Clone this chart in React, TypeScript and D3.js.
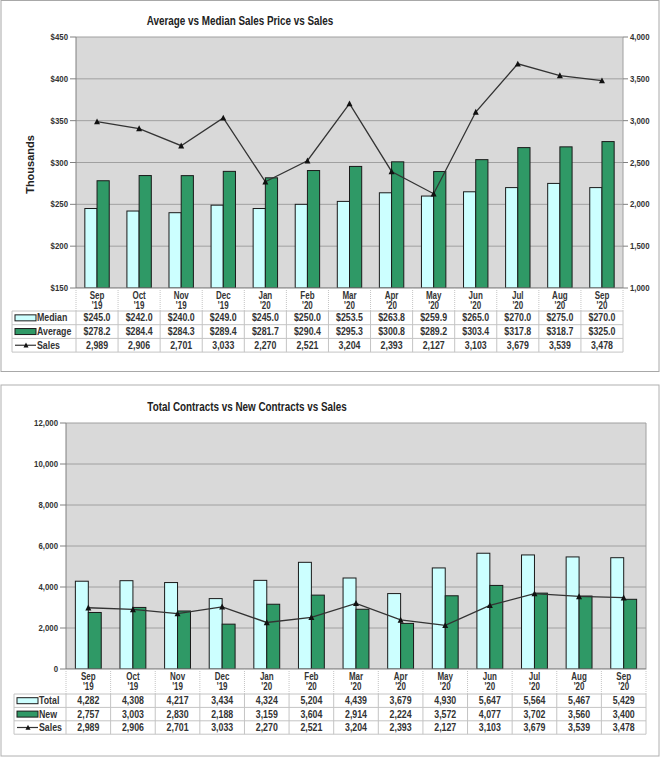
import React from "react";
import * as d3 from "d3";

const months = ["Sep", "Oct", "Nov", "Dec", "Jan", "Feb", "Mar", "Apr", "May", "Jun", "Jul", "Aug", "Sep"];
const years = ["'19", "'19", "'19", "'19", "'20", "'20", "'20", "'20", "'20", "'20", "'20", "'20", "'20"];

const median = [245.0, 242.0, 240.0, 249.0, 245.0, 250.0, 253.5, 263.8, 259.9, 265.0, 270.0, 275.0, 270.0];
const average = [278.2, 284.4, 284.3, 289.4, 281.7, 290.4, 295.3, 300.8, 289.2, 303.4, 317.8, 318.7, 325.0];
const sales = [2989, 2906, 2701, 3033, 2270, 2521, 3204, 2393, 2127, 3103, 3679, 3539, 3478];

const totalContracts = [4282, 4308, 4217, 3434, 4324, 5204, 4439, 3679, 4930, 5647, 5564, 5467, 5429];
const newContracts = [2757, 3003, 2830, 2188, 3159, 3604, 2914, 2224, 3572, 4077, 3702, 3560, 3400];

const priceTicks = [150, 200, 250, 300, 350, 400, 450];
const salesTicks = [1000, 1500, 2000, 2500, 3000, 3500, 4000];
const contractTicks = [0, 2000, 4000, 6000, 8000, 10000, 12000];

const FONT = "'Liberation Sans', Arial, Helvetica, sans-serif";
const C_LIGHT = "#ccffff";
const C_DARK = "#2f9966";
const TXT = "#333";

const fmtMoney = (v: number) => "$" + v.toFixed(1);
const fmtInt = d3.format(",");

type Row = { name: string; kind: "light" | "dark" | "line"; values: string[] };

function T(props: {
  x: number;
  y: number;
  fs: number;
  sx: number;
  anchor?: "start" | "middle" | "end";
  fill?: string;
  weight?: string;
  children: React.ReactNode;
}) {
  return (
    <text
      transform={`translate(${props.x},${props.y}) scale(${props.sx},1)`}
      textAnchor={props.anchor || "start"}
      fontFamily={FONT}
      fontWeight={props.weight || "bold"}
      fontSize={props.fs}
      fill={props.fill || TXT}
    >
      {props.children}
    </text>
  );
}

function Triangle({ x, y, s = 6 }: { x: number; y: number; s?: number }) {
  const h = s * 0.9;
  return <path d={`M${x},${y - h / 2 - 0.5} L${x + s / 2},${y + h / 2} L${x - s / 2},${y + h / 2} Z`} fill="#111" />;
}

function Chart(props: {
  title: string;
  titleX: number;
  titleY: number;
  box: [number, number, number, number];
  boxStroke: string;
  plot: { x0: number; x1: number; y0: number; y1: number };
  yDomain: [number, number];
  yTicks: number[];
  yFmt: (v: number) => string;
  y2?: { domain: [number, number]; ticks: number[]; fmt: (v: number) => string };
  barA: number[];
  barB: number[];
  line: number[];
  lineOnY2: boolean;
  legendX: number;
  catH: number;
  rowH: number;
  rows: Row[];
  yTitle?: string;
}) {
  const { plot } = props;
  const x = d3.scaleBand<number>().domain(d3.range(months.length)).range([plot.x0, plot.x1]).padding(0);
  const y = d3.scaleLinear().domain(props.yDomain).range([plot.y1, plot.y0]);
  const y2 = props.y2 ? d3.scaleLinear().domain(props.y2.domain).range([plot.y1, plot.y0]) : y;
  const bw = x.bandwidth() * 0.29;
  const ly = props.lineOnY2 ? y2 : y;
  const cxOf = (i: number) => (x(i) as number) + x.bandwidth() / 2;
  const linePath = d3
    .line<number>()
    .x((_, i) => cxOf(i))
    .y((d) => ly(d))(props.line) as string;
  const tableTop = plot.y1;
  const catBottom = tableTop + props.catH;
  const tableBottom = catBottom + props.rowH * props.rows.length;
  const [bx, by, bwid, bh] = props.box;
  return (
    <g>
      <rect x={bx} y={by} width={bwid} height={bh} fill="#fff" stroke={props.boxStroke} strokeWidth={1} />
      <T x={props.titleX} y={props.titleY} fs={12.5} sx={0.79} anchor="middle" fill="#222">
        {props.title}
      </T>
      {/* plot background */}
      <rect x={plot.x0} y={plot.y0} width={plot.x1 - plot.x0} height={plot.y1 - plot.y0} fill="#d9d9d9" />
      {props.yTicks.map((t) => (
        <line key={"g" + t} x1={plot.x0} x2={plot.x1} y1={y(t)} y2={y(t)} stroke="#a0a0a0" strokeWidth={1} />
      ))}
      <line x1={plot.x1} x2={plot.x1} y1={plot.y0} y2={plot.y1} stroke="#a0a0a0" />
      {/* bars */}
      {months.map((_, i) => {
        const cx = cxOf(i);
        const base = y(props.yDomain[0]);
        return (
          <g key={"b" + i}>
            <rect x={cx - bw} y={y(props.barA[i])} width={bw} height={base - y(props.barA[i])} fill={C_LIGHT} stroke="#1a1a1a" strokeWidth={1} />
            <rect x={cx} y={y(props.barB[i])} width={bw} height={base - y(props.barB[i])} fill={C_DARK} stroke="#1a1a1a" strokeWidth={1} />
          </g>
        );
      })}
      {/* line */}
      <path d={linePath} fill="none" stroke="#333" strokeWidth={1.3} />
      {props.line.map((v, i) => (
        <Triangle key={"t" + i} x={cxOf(i)} y={ly(v)} />
      ))}
      {/* left axis */}
      <line x1={plot.x0} x2={plot.x0} y1={plot.y0} y2={plot.y1} stroke="#808080" strokeWidth={1} />
      {props.yTicks.map((t) => (
        <g key={"lt" + t}>
          <line x1={plot.x0 - 6} x2={plot.x0} y1={y(t)} y2={y(t)} stroke="#808080" />
          <T x={plot.x0 - 8} y={y(t) + 3} fs={8.5} sx={0.92} anchor="end">
            {props.yFmt(t)}
          </T>
        </g>
      ))}
      {props.y2 &&
        props.y2.ticks.map((t) => (
          <g key={"rt" + t}>
            <line x1={plot.x1} x2={plot.x1 + 5} y1={y2(t)} y2={y2(t)} stroke="#808080" />
            <T x={plot.x1 + 7} y={y2(t) + 3} fs={8.5} sx={0.92}>
              {props.y2!.fmt(t)}
            </T>
          </g>
        ))}
      {props.yTitle && (
        <text
          transform={`translate(${34},${(plot.y0 + plot.y1) / 2 + 2}) rotate(-90)`}
          textAnchor="middle"
          fontFamily={FONT}
          fontWeight="bold"
          fontSize={11}
          fill="#222"
        >
          {props.yTitle}
        </text>
      )}
      {/* table */}
      <rect x={plot.x0} y={tableTop} width={plot.x1 - plot.x0} height={props.catH} fill="#fff" />
      <line x1={plot.x0} x2={plot.x1} y1={tableTop} y2={tableTop} stroke="#808080" />
      {months.map((m, i) => {
        const cx = cxOf(i);
        return (
          <g key={"c" + i}>
            <T x={cx} y={tableTop + 10.5} fs={10} sx={0.8} anchor="middle">
              {m}
            </T>
            <T x={cx} y={tableTop + 20.5} fs={10} sx={0.8} anchor="middle">
              {years[i]}
            </T>
          </g>
        );
      })}
      {d3.range(months.length + 1).map((i) => {
        const xx = i === months.length ? plot.x1 : (x(i) as number);
        return (
          <g key={"v" + i}>
            <line x1={xx} x2={xx} y1={tableTop} y2={catBottom} stroke="#c4c4c4" strokeDasharray="1,1" />
            <line x1={xx} x2={xx} y1={catBottom} y2={tableBottom} stroke="#c4c4c4" />
          </g>
        );
      })}
      <line x1={props.legendX} x2={props.legendX} y1={catBottom} y2={tableBottom} stroke="#c4c4c4" />
      {d3.range(props.rows.length + 1).map((r) => (
        <line
          key={"h" + r}
          x1={props.legendX}
          x2={plot.x1}
          y1={catBottom + r * props.rowH}
          y2={catBottom + r * props.rowH}
          stroke="#c4c4c4"
        />
      ))}
      {props.rows.map((row, r) => {
        const cy = catBottom + r * props.rowH + props.rowH / 2;
        const sx = props.legendX + 3;
        return (
          <g key={"r" + r}>
            {row.kind === "line" ? (
              <g>
                <line x1={sx} x2={sx + 21} y1={cy} y2={cy} stroke="#333" strokeWidth={1.2} />
                <Triangle x={sx + 11} y={cy} s={5} />
              </g>
            ) : (
              <rect x={sx} y={cy - 3} width={21} height={6} fill={row.kind === "light" ? C_LIGHT : C_DARK} stroke="#1a1a1a" />
            )}
            <T x={sx + 22} y={cy + 3.5} fs={10} sx={0.88}>
              {row.name}
            </T>
            {row.values.map((v, i) => (
              <T key={i} x={cxOf(i)} y={cy + 3.5} fs={10} sx={0.88} anchor="middle">
                {v}
              </T>
            ))}
          </g>
        );
      })}
    </g>
  );
}

export default function App() {
  return (
    <svg width={665} height={758} style={{ position: "absolute", left: 0, top: 0 }} xmlns="http://www.w3.org/2000/svg">
      <rect width={665} height={758} fill="#fff" />
      <Chart
        title="Average vs Median Sales Price vs Sales"
        titleX={240}
        titleY={25}
        box={[1, 0.5, 658, 371]}
        boxStroke="#a8a8a8"
        plot={{ x0: 76, x1: 623, y0: 37, y1: 288 }}
        yDomain={[150, 450]}
        yTicks={priceTicks}
        yFmt={(v) => "$" + v}
        y2={{ domain: [1000, 4000], ticks: salesTicks, fmt: fmtInt }}
        barA={median}
        barB={average}
        line={sales}
        lineOnY2={true}
        legendX={12}
        catH={23}
        rowH={13.7}
        rows={[
          { name: "Median", kind: "light", values: median.map(fmtMoney) },
          { name: "Average", kind: "dark", values: average.map(fmtMoney) },
          { name: "Sales", kind: "line", values: sales.map(fmtInt) },
        ]}
        yTitle="Thousands"
      />
      <Chart
        title="Total Contracts vs New Contracts vs Sales"
        titleX={247}
        titleY={411}
        box={[1, 385, 658, 371]}
        boxStroke="#b0b0b0"
        plot={{ x0: 66, x1: 646, y0: 423, y1: 669 }}
        yDomain={[0, 12000]}
        yTicks={contractTicks}
        yFmt={fmtInt}
        barA={totalContracts}
        barB={newContracts}
        line={sales}
        lineOnY2={false}
        legendX={14}
        catH={25}
        rowH={13.4}
        rows={[
          { name: "Total", kind: "light", values: totalContracts.map(fmtInt) },
          { name: "New", kind: "dark", values: newContracts.map(fmtInt) },
          { name: "Sales", kind: "line", values: sales.map(fmtInt) },
        ]}
      />
    </svg>
  );
}
